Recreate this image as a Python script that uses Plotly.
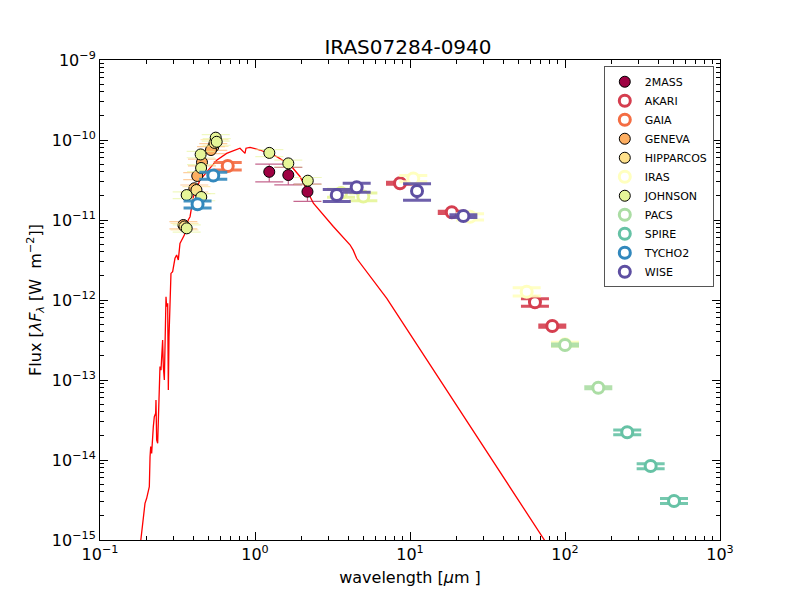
import plotly.graph_objects as go

# model SED (wavelength in micron, lambda*F_lambda in W m^-2)
model_wl = [0.178, 0.1830, 0.1884, 0.1904, 0.1951, 0.2000, 0.2050, 0.2081, 0.2103, 0.2124,
            0.2154, 0.2176, 0.2208, 0.2241, 0.2286, 0.2297, 0.2320, 0.2355, 0.2378, 0.2414,
            0.2438, 0.2474, 0.2499, 0.2536, 0.2562, 0.2601, 0.2666, 0.2692, 0.2733, 0.2760,
            0.2787, 0.2828, 0.2870, 0.2942, 0.3046, 0.3122, 0.3200, 0.3281, 0.350, 0.371,
            0.381, 0.400, 0.4416, 0.500, 0.566, 0.656, 0.80, 0.862, 0.875, 0.929,
            1.077, 1.38, 1.683, 1.95, 2.38, 3.2, 4.1, 4.3, 4.53, 7.08,
            74.3, 90.0]
model_flux = [6e-16, 1e-15, 1.62e-15, 1.78e-15, 2.87e-15, 3.32e-15, 4.42e-15, 4.64e-15, 1.10e-14, 1.47e-14,
              1.21e-14, 1.78e-14, 2.61e-14, 3.48e-14, 3.83e-14, 5.62e-14, 1.78e-14, 1.62e-14, 2.61e-14, 8.25e-14,
              1.47e-13, 1.33e-13, 2.37e-13, 3.16e-13, 1.47e-13, 1.0e-13, 1.10e-12, 8.25e-13, 9.09e-13, 7.5e-14,
              3.48e-13, 1.47e-12, 2.15e-12, 2.26e-12, 3.32e-12, 3.65e-12, 3.16e-12, 5.1e-12, 6.5e-12, 1.0e-11,
              1.1e-11, 1.95e-11, 3.16e-11, 4.2e-11, 5.6e-11, 6.8e-11, 7.9e-11, 6.8e-11, 7.9e-11, 8.1e-11,
              7.5e-11, 6.2e-11, 4.9e-11, 3.5e-11, 1.62e-11, 8.3e-12, 4.9e-12, 4.2e-12, 3.3e-12, 1.05e-12,
              1.0e-15, 5.5e-16]

# photometry per catalogue: wavelength, flux, flux error
tmass_wl = [1.236, 1.64, 2.18]
tmass_flux = [4.0e-11, 3.65e-11, 2.26e-11]
tmass_err = [1.0e-11, 0.9e-11, 0.55e-11]

akari_wl = [8.62, 18.6, 64.0, 82.8]
akari_flux = [2.88e-11, 1.25e-11, 9.36e-13, 4.73e-13]
akari_err = [0.09e-11, 0.04e-11, 1.0e-13, 0.15e-13]

gaia_wl = [0.667]
gaia_flux = [4.73e-11]
gaia_err = [0.5e-11]

geneva_wl = [0.538, 0.52, 0.455, 0.424, 0.406, 0.345]
geneva_flux = [8.2e-11, 7.5e-11, 5.26e-11, 3.55e-11, 2.49e-11, 8.66e-12]
geneva_err = [0.8e-11, 0.75e-11, 0.5e-11, 0.35e-11, 0.25e-11, 0.9e-12]

hip_wl = [0.548, 0.419, 0.351]
hip_flux = [9.2e-11, 2.37e-11, 8.3e-12]
hip_err = [0.9e-11, 0.24e-11, 0.8e-12]

iras_wl = [10.5, 24.4, 56.6, 100.0]
iras_flux = [3.3e-11, 1.1e-11, 1.27e-12, 2.8e-13]
iras_err = [0.3e-11, 0.1e-11, 0.15e-12, 0.16e-13]

johnson_wl = [0.558, 0.566, 0.446, 0.449, 0.3625, 0.45, 0.3625, 1.237, 1.64, 2.19]
johnson_flux = [1.07e-10, 9.5e-11, 6.6e-11, 4.47e-11, 2.05e-11, 1.94e-11, 7.87e-12, 6.9e-11, 5.1e-11, 3.1e-11]
johnson_err = [1.0e-11, 0.9e-11, 0.6e-11, 0.45e-11, 0.2e-11, 0.2e-11, 0.8e-12, 0.7e-11, 0.5e-11, 0.3e-11]

johnson_ir_wl = [3.59, 5.0]
johnson_ir_flux = [2.18e-11, 1.96e-11]
johnson_ir_err = [0.25e-11, 0.22e-11]

pacs_wl = [100.0, 164.0]
pacs_flux = [2.74e-13, 8.0e-14]
pacs_err = [0.08e-13, 0.24e-14]

spire_wl = [252.0, 357.0, 505.0]
spire_flux = [2.22e-14, 8.4e-15, 3.07e-15]
spire_err = [0.15e-14, 0.6e-15, 0.22e-15]

tycho_wl = [0.538, 0.426]
tycho_flux = [3.6e-11, 1.57e-11]
tycho_err = [0.36e-11, 0.16e-11]

wise_wl = [3.37, 4.53, 11.1, 22.1]
wise_flux = [2.05e-11, 2.56e-11, 2.3e-11, 1.12e-11]
wise_err = [0.35e-11, 0.33e-11, 0.53e-11, 0.045e-11]

x_ticks = [0.1, 1, 10, 100, 1000]
x_labels = ["10<sup>\u22121</sup>", "10<sup>0</sup>", "10<sup>1</sup>", "10<sup>2</sup>", "10<sup>3</sup>"]
y_ticks = [1e-15, 1e-14, 1e-13, 1e-12, 1e-11, 1e-10, 1e-9]
y_labels = ["10<sup>\u221215</sup>", "10<sup>\u221214</sup>", "10<sup>\u221213</sup>", "10<sup>\u221212</sup>",
            "10<sup>\u221211</sup>", "10<sup>\u221210</sup>", "10<sup>\u22129</sup>"]


def rgba(hexcol, a):
    h = hexcol.lstrip("#")
    return "rgba(%d,%d,%d,%s)" % (int(h[0:2], 16), int(h[2:4], 16), int(h[4:6], 16), a)


def filled(name, wl, flux, err, col, show=True):
    return go.Scatter(
        x=wl, y=flux, mode="markers", name=name, legendgroup=name, showlegend=show,
        marker=dict(size=11, color=col, line=dict(color="black", width=1)),
        error_y=dict(type="data", array=err, color=rgba(col, 0.6), thickness=1.2, width=14),
    )


def hollow(name, wl, flux, err, col, show=True):
    return go.Scatter(
        x=wl, y=flux, mode="markers", name=name, legendgroup=name, showlegend=show,
        marker=dict(size=11, color="white", line=dict(color=col, width=3)),
        error_y=dict(type="data", array=err, color=rgba(col, 0.9), thickness=3, width=14),
    )


fig = go.Figure()
fig.add_trace(go.Scatter(x=model_wl, y=model_flux, mode="lines", showlegend=False,
                         line=dict(color="red", width=1.3)))
fig.add_trace(filled("2MASS", tmass_wl, tmass_flux, tmass_err, "#9e0142"))
fig.add_trace(hollow("AKARI", akari_wl, akari_flux, akari_err, "#d53e4f"))
fig.add_trace(hollow("GAIA", gaia_wl, gaia_flux, gaia_err, "#f46d43"))
fig.add_trace(filled("GENEVA", geneva_wl, geneva_flux, geneva_err, "#fdae61"))
fig.add_trace(filled("HIPPARCOS", hip_wl, hip_flux, hip_err, "#fee08b"))
fig.add_trace(hollow("IRAS", iras_wl, iras_flux, iras_err, "#ffffbf"))
fig.add_trace(filled("JOHNSON", johnson_wl, johnson_flux, johnson_err, "#e6f598"))
fig.add_trace(hollow("JOHNSON", johnson_ir_wl, johnson_ir_flux, johnson_ir_err, "#e6f598", show=False))
fig.add_trace(hollow("PACS", pacs_wl, pacs_flux, pacs_err, "#abdda4"))
fig.add_trace(hollow("SPIRE", spire_wl, spire_flux, spire_err, "#66c2a5"))
fig.add_trace(hollow("TYCHO2", tycho_wl, tycho_flux, tycho_err, "#3288bd"))
fig.add_trace(hollow("WISE", wise_wl, wise_flux, wise_err, "#5e4fa2"))

axis_common = dict(
    showline=True, linecolor="black", linewidth=1, mirror="allticks",
    ticks="inside", ticklen=8, tickcolor="black", showgrid=False, zeroline=False,
    tickfont=dict(size=16, color="black"),
    minor=dict(ticks="inside", ticklen=4, tickcolor="black", showgrid=False, dtick="D1"),
)

fig.update_xaxes(type="log", range=[-1, 3], tickmode="array", tickvals=x_ticks, ticktext=x_labels,
                 title=dict(text="wavelength [<i>\u03bc</i>m ]", font=dict(size=16, color="black"), standoff=8),
                 **axis_common)
fig.update_yaxes(type="log", range=[-15, -9], tickmode="array", tickvals=y_ticks, ticktext=y_labels,
                 title=dict(text="Flux [<i>\u03bbF<sub>\u03bb</sub></i> [W  m<sup>\u22122</sup>]]",
                            font=dict(size=16, color="black"), standoff=6),
                 **axis_common)

# page body adds an 8px offset, margins compensate so the plot box sits at 100..720 x 60..540
fig.update_layout(
    width=800, height=600,
    margin=dict(l=92, r=88, t=52, b=68),
    paper_bgcolor="white", plot_bgcolor="white",
    font=dict(family="DejaVu Sans", color="black"),
    title=dict(text="IRAS07284-0940", x=0.5, xanchor="center", y=0.923, yanchor="bottom",
               font=dict(size=20, color="black")),
    legend=dict(x=0.99, y=0.987, xanchor="right", yanchor="top", bordercolor="#555555",
                borderwidth=1, bgcolor="white", font=dict(size=11, color="black"),
                itemwidth=30, tracegroupgap=0),
)

fig.write_html("out.html")
